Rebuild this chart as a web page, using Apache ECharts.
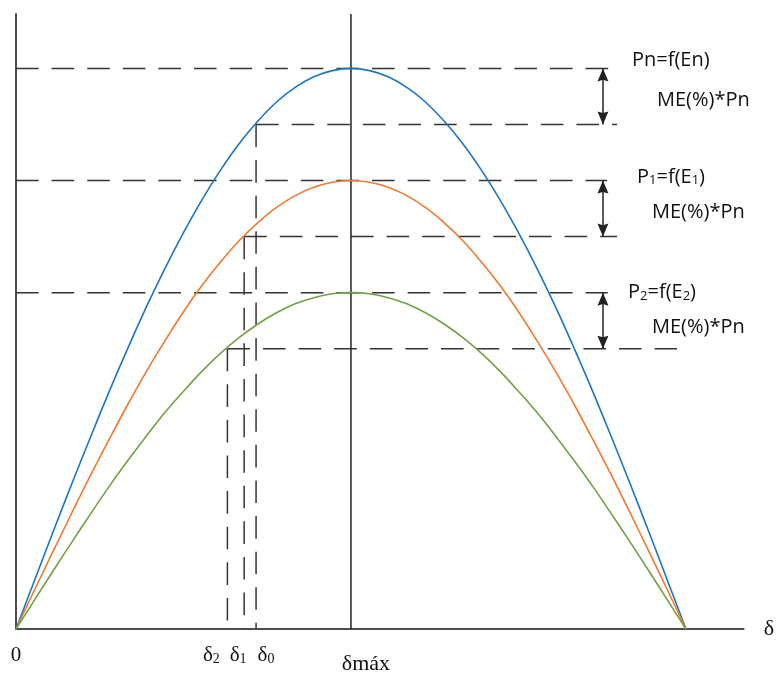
<!DOCTYPE html>
<html><head><meta charset="utf-8">
<script src="https://cdn.jsdelivr.net/npm/echarts@6/dist/echarts.min.js"></script>
<style>html,body{margin:0;padding:0;background:#fff}#c{width:777px;height:675px}</style>
</head><body><div id="c"></div>
<script>
// ---- data ----
const angles = [0,5,10,15,20,25,30,35,40,45,50,55,60,65,70,75,80,85,90,95,100,105,110,115,120,125,130,135,140,145,150,155,160,165,170,175,180];
const curvePn = [0,0.087,0.174,0.259,0.342,0.423,0.5,0.574,0.643,0.707,0.766,0.819,0.866,0.906,0.94,0.966,0.985,0.996,1,0.996,0.985,0.966,0.94,0.906,0.866,0.819,0.766,0.707,0.643,0.574,0.5,0.423,0.342,0.259,0.174,0.087,0];
const curveP1 = [0,0.07,0.139,0.207,0.274,0.338,0.4,0.459,0.514,0.566,0.613,0.655,0.693,0.725,0.752,0.773,0.788,0.797,0.8,0.797,0.788,0.773,0.752,0.725,0.693,0.655,0.613,0.566,0.514,0.459,0.4,0.338,0.274,0.207,0.139,0.07,0];
const curveP2 = [0,0.052,0.104,0.155,0.205,0.254,0.3,0.344,0.386,0.424,0.46,0.492,0.52,0.544,0.564,0.58,0.591,0.598,0.6,0.598,0.591,0.58,0.564,0.544,0.52,0.492,0.46,0.424,0.386,0.344,0.3,0.254,0.205,0.155,0.104,0.052,0];
const peakLevels = [1.0, 0.8, 0.6];          // Pn, P1, P2
const reducedLevels = [0.9, 0.7, 0.5];       // after ME(%)*Pn
const deltas = [64.5, 61.3, 56.8];           // δ0, δ1, δ2
const deltaMax = 90;
const peakLineEnds = [159.2, 158.8, 159.0];
const reducedLineEnds = [161.5, 161.5, 177.6];
const arrowX = 157.7;
const xMax = 195.5, yMax = 1.097;
const tickValues = [0, 56.8, 61.3, 64.5];
const tickMain = ['0', 'δ', 'δ', 'δ'];
const tickSub = ['', '2', '1', '0'];
const tickShift = [0, -16, -6, 10];
const maxLabel = 'δmáx';

// ---- styles ----
const serif = 'Liberation Serif';
const sans = 'Open Sans';
const dash = {type: [22.6, 13], width: 1.5, color: '#333'};
const rich = {};
tickValues.forEach((v, i) => {
  const s = tickShift[i];
  rich['m' + i] = {fontFamily: serif, fontSize: 21, color: '#111', padding: [0, 0, 0, Math.max(0, 2 * s)]};
  rich['s' + i] = {fontFamily: serif, fontSize: 14, color: '#111', verticalAlign: 'bottom', padding: [0, Math.max(0, -2 * s), 0, 0]};
});

const series = [];
const curveDefs = [[curvePn, '#1a75c4'], [curveP1, '#f07a2e'], [curveP2, '#73a043']];
curveDefs.forEach(([vals, col]) => {
  series.push({type: 'line', data: angles.map((a, i) => [a, vals[i]]), smooth: 0.4, showSymbol: false,
    lineStyle: {color: col, width: 1.6}, z: 4, silent: true});
});
peakLevels.forEach((L, i) => {
  series.push({type: 'line', data: [[0, L], [peakLineEnds[i], L]], showSymbol: false, lineStyle: dash, z: 2, silent: true});
});
reducedLevels.forEach((L, i) => {
  series.push({type: 'line', data: [[deltas[i], L], [reducedLineEnds[i], L]], showSymbol: false, lineStyle: dash, z: 2, silent: true});
  series.push({type: 'line', data: [[deltas[i], L], [deltas[i], 0]], showSymbol: false, lineStyle: dash, z: 2, silent: true});
});
const arrowPath = 'path://M5,0 L10,12 L5,10.5 L0,12 Z';
series.push({type: 'line', data: [[deltaMax, 0], [deltaMax, yMax]], showSymbol: false,
  lineStyle: {color: '#222', width: 1.5}, z: 3, silent: true,
  markLine: {
    silent: true, animation: false,
    symbol: [arrowPath, arrowPath],
    symbolSize: [11, 13], symbolOffset: [[0, '50%'], [0, '50%']],
    itemStyle: {color: '#222'},
    lineStyle: {color: '#222', width: 1.5, type: 'solid'},
    label: {show: false},
    data: peakLevels.map((L, i) => [{coord: [arrowX, L]}, {coord: [arrowX, reducedLevels[i]]}])
  }
});

const chart = echarts.init(document.getElementById('c'));
const annText = (x, y, text) => ({type: 'text', x: x, y: y, style: {
  text: text, fill: '#111', font: '20px "Open Sans"', align: 'left', verticalAlign: 'middle',
  rich: {m: {fontFamily: sans, fontSize: 20, fill: '#111'}, s: {fontFamily: sans, fontSize: 13, fill: '#111', verticalAlign: 'bottom'}}
}});

chart.setOption({
  animation: false,
  backgroundColor: '#fff',
  grid: {left: 16, right: 32, top: 14, bottom: 45, containLabel: false},
  xAxis: [{
    type: 'value', min: 0, max: xMax, splitLine: {show: false},
    axisLine: {show: true, lineStyle: {color: '#4d4d4d', width: 2}},
    axisTick: {show: false},
    axisLabel: {show: true, margin: 16, customValues: tickValues, color: '#111',
      formatter: function (v) {
        let i = 0, best = 1e9;
        tickValues.forEach((t, k) => { if (Math.abs(t - v) < best) { best = Math.abs(t - v); i = k; } });
        return '{m' + i + '|' + tickMain[i] + '}' + (tickSub[i] ? '{s' + i + '|' + tickSub[i] + '}' : '');
      },
      rich: rich},
    name: 'δ', nameLocation: 'end', nameGap: 20,
    nameTextStyle: {fontFamily: serif, fontSize: 22, color: '#111', verticalAlign: 'middle', padding: [49, 0, 0, 0]}
  }, {
    type: 'value', min: 0, max: xMax, position: 'bottom', splitLine: {show: false},
    axisLine: {show: false}, axisTick: {show: false},
    axisLabel: {show: true, margin: 24, customValues: [deltaMax], color: '#111',
      formatter: function () { return '{a|' + maxLabel + '}'; },
      rich: {a: {fontFamily: serif, fontSize: 22, color: '#111', padding: [0, 0, 0, 30]}}}
  }],
  yAxis: {
    type: 'value', min: 0, max: yMax, splitLine: {show: false},
    axisLine: {show: true, lineStyle: {color: '#4d4d4d', width: 2}},
    axisTick: {show: false}, axisLabel: {show: false}
  },
  graphic: [
    annText(632, 60.5, '{m|Pn=f(En)}'),
    annText(657, 100.5, '{m|ME(%)*Pn}'),
    annText(637, 177, '{m|P}{s|1}{m|=f(E}{s|1}{m|)}'),
    annText(652, 212.5, '{m|ME(%)*Pn}'),
    annText(628, 292.5, '{m|P}{s|2}{m|=f(E}{s|2}{m|)}'),
    annText(652, 327.5, '{m|ME(%)*Pn}')
  ],
  series: series
});
</script>
</body></html>
